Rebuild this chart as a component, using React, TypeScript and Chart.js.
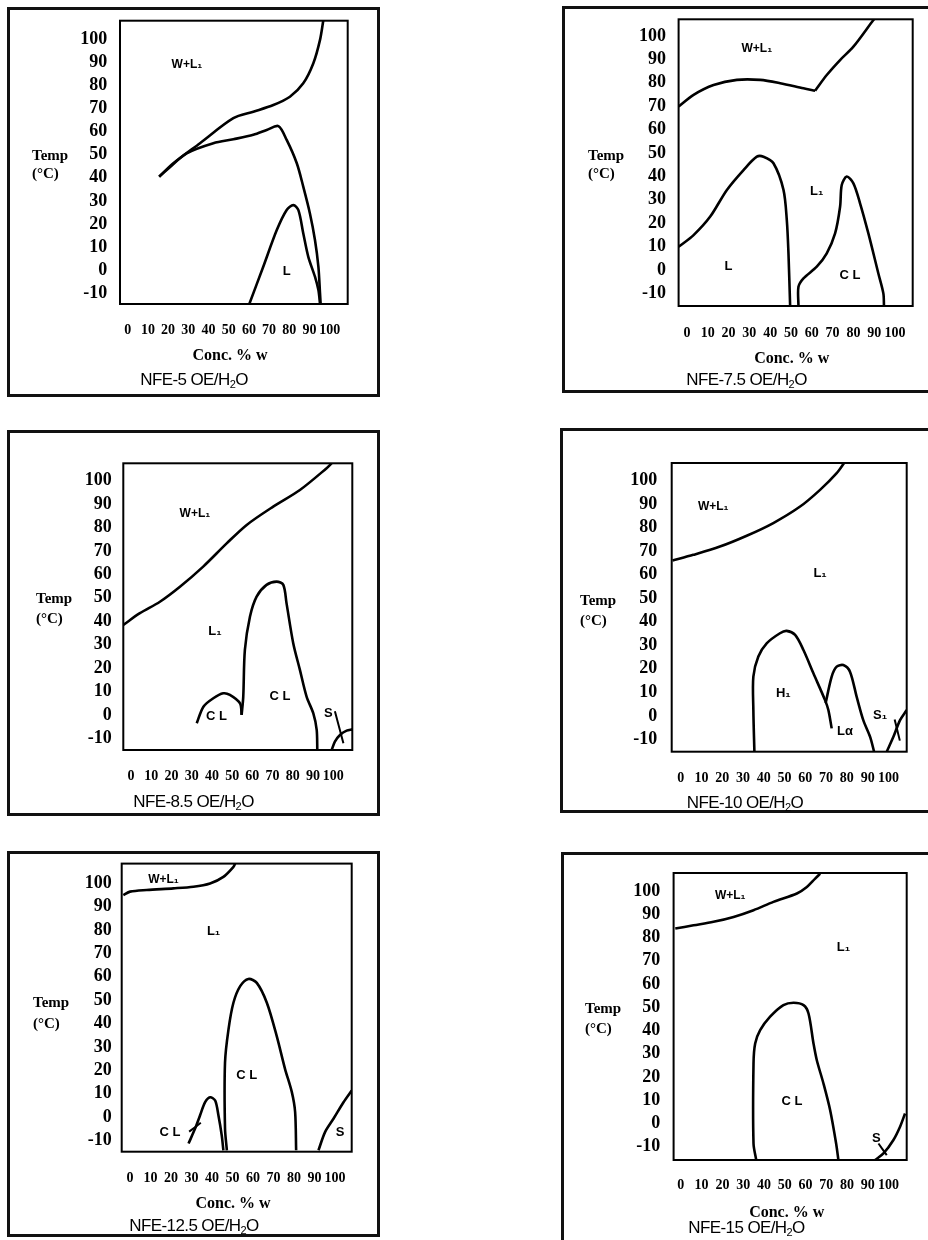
import React, { useEffect, useRef } from "react";
import { Chart, registerables } from "chart.js";
Chart.register(...registerables);

// ---- tick labels ----
const yTickValues = [-10, 0, 10, 20, 30, 40, 50, 60, 70, 80, 90, 100];
const xTickValues = [0, 10, 20, 30, 40, 50, 60, 70, 80, 90, 100];

// ---- NFE-5 OE/H2O ----
const nfe5Upper = [[15.6, 40.5], [22.6, 46.3], [35.8, 55], [52.3, 65.8], [62.2, 68.6], [72.1, 71.5], [80.3, 75.1], [86.9, 80.9], [91.9, 89.6], [95.2, 99.7], [96.8, 108]];
const nfe5Lower = [[15.6, 40.5], [19.3, 43.4], [29.2, 50.6], [42.4, 55], [52.3, 56.7], [62.2, 58.6], [68.8, 60.7], [74.6, 62.4], [78.7, 56.4], [83.7, 46.3], [86.9, 36.2], [90.2, 24.6], [92.7, 13.1], [94.4, 1.5], [95.2, -10], [95.5, -14.6]];
const nfe5Dome = [[60.2, -14.6], [67.1, 1.5], [73.8, 17.4], [78.7, 26.1], [82, 28.2], [84.5, 26], [86.9, 16], [89.4, 5.8], [92.7, -2.8], [94.4, -8.6], [95.2, -14.6]];
const nfe5Labels = [{ x: 29.3, y: 88.8, text: "W+L₁" }, { x: 78.7, y: -0.6, text: "L" }];

// ---- NFE-7.5 OE/H2O ----
const nfe75UpperLeft = [[-4, 69.8], [3.2, 74.8], [12.8, 79], [24, 81.2], [35.2, 81.2], [44.8, 79.8], [56, 77.6], [61.6, 76.6]];
const nfe75UpperRight = [[61.6, 76.6], [67.2, 83.3], [73.6, 89.7], [80, 95.4], [89.6, 106.8], [90, 107.1]];
const nfe75LDome = [[-4, 9.9], [3.2, 14.9], [11.2, 22.8], [19.2, 34.2], [27.2, 42.7], [33.6, 48.4], [36.8, 48.4], [41.6, 45.6], [46.4, 34.2], [48, 21.3], [48.8, 7.1], [49.6, -15.4]];
const nfe75CL = [[53.6, -15.4], [53.6, -7.2], [56, -3.6], [62.4, 1.4], [67.2, 7.1], [71.2, 15.6], [73.6, 27], [74.4, 36.3], [76.8, 39.9], [80, 37], [83.2, 28.5], [87.2, 15.6], [92, -1.5], [94.4, -10], [94.7, -15.4]];
const nfe75Labels = [{ x: 33.6, y: 94.7, text: "W+L₁" }, { x: 62.4, y: 33.4, text: "L₁" }, { x: 20, y: 1.4, text: "L" }, { x: 78.4, y: -2.2, text: "C L" }];

// ---- NFE-8.5 OE/H2O ----
const nfe85Upper = [[-3.8, 38.4], [4.4, 43.4], [14.3, 48.3], [24.2, 54.7], [35.7, 63.3], [47.3, 73.2], [57.2, 81.1], [70.3, 88.9], [83.5, 96], [96.7, 105.3], [99.2, 107.4]];
const nfe85SmallCL = [[32.5, -3.6], [35.8, 3.5], [40.7, 7.1], [45.6, 9.2], [48.9, 8.5], [53.9, 4.9], [54.7, 0]];
const nfe85BigCL = [[54.7, 0], [55.5, 7.8], [56.3, 27.7], [58.8, 41.9], [62.1, 50.5], [67, 55.5], [72, 56.9], [75.3, 55.5], [76.9, 47.6], [80.2, 30.6], [83.5, 19.2], [86.8, 7.8], [90.1, 0.7], [91.8, -6.4], [92.1, -15]];
const nfe85S = [[99.2, -15], [100.8, -11.4], [103.3, -8.6], [106.6, -6.7], [109.4, -6.2]];
const nfe85STick = [[100.8, 1.5], [105, -12.1]];
const nfe85Labels = [{ x: 31.6, y: 86, text: "W+L₁" }, { x: 41.5, y: 35.5, text: "L₁" }, { x: 42.3, y: -0.8, text: "C L" }, { x: 73.6, y: 7.8, text: "C L" }, { x: 97.5, y: 0.7, text: "S" }];

// ---- NFE-10 OE/H2O ----
const nfe10Upper = [[-3.9, 66], [6.1, 68.4], [18.9, 71.9], [31.8, 76.5], [44.6, 81.9], [57.5, 88.9], [67.1, 96], [75.1, 103.1], [78.7, 107.4]];
const nfe10H1 = [[35.5, -15.2], [35, 2.5], [35, 16.7], [37.4, 25.2], [41.4, 30.8], [47.8, 35.1], [51, 36.1], [55.1, 34.4], [59.1, 28], [63.9, 18.1], [69.5, 6.7], [71.1, 2.5], [72.7, -5.3]];
const nfe10La = [[69.8, 5.5], [72.7, 16.7], [75.1, 20.9], [78.3, 21.6], [81.5, 18.8], [84.7, 8.2], [87.9, -1.8], [91.2, -8.9], [93.1, -15.2]];
const nfe10S1 = [[99.2, -15.2], [102.4, -8.9], [105.6, -1.8], [108.8, 2.5]];
const nfe10STick = [[103, -1.5], [105.5, -10.5]];
const nfe10Labels = [{ x: 15.7, y: 88.9, text: "W+L₁" }, { x: 67.1, y: 60.6, text: "L₁" }, { x: 49.4, y: 9.6, text: "H₁" }, { x: 79.1, y: -6.7, text: "Lα" }, { x: 96, y: 0.4, text: "S₁" }];

// ---- NFE-12.5 OE/H2O ----
const nfe125Upper = [[-3.3, 95], [0, 96.5], [8.1, 97.2], [21.1, 97.9], [30.9, 98.6], [39, 100], [45.5, 102.8], [50.4, 107.1], [51.2, 108.5]];
const nfe125SmallCL = [[28.5, -11.4], [31.7, -5], [34.1, 0.6], [36.6, 6.3], [39, 8.4], [41.5, 7], [43.1, 0.6], [44.7, -7.9], [45.5, -14.3]];
const nfe125Tick = [[28.8, -6.3], [34.5, -2.5]];
const nfe125BigCL = [[47.2, -14.3], [46.3, -5], [46.3, 23.3], [48, 37.5], [50.4, 48.9], [53.7, 56], [57.7, 59.1], [61.8, 57.4], [66.7, 48.9], [71.5, 34.7], [75.6, 20.5], [78.9, 10.6], [80.5, 2.1], [81, -14.3]];
const nfe125S = [[91.9, -14.3], [95.1, -6.5], [99.2, -0.8], [104.1, 6.3], [108.1, 11.3]];
const nfe125Labels = [{ x: 16.3, y: 101.7, text: "W+L₁" }, { x: 40.7, y: 79.4, text: "L₁" }, { x: 56.9, y: 17.7, text: "C L" }, { x: 19.5, y: -6.5, text: "C L" }, { x: 102.4, y: -6.5, text: "S" }];

// ---- NFE-15 OE/H2O ----
const nfe15Upper = [[-2.7, 83.8], [6.1, 85.2], [15.7, 86.7], [25.4, 88.8], [35, 91.7], [44.6, 95.3], [55.9, 98.9], [60.7, 101.7], [64.7, 105.3], [67.1, 107.4]];
const nfe15CL = [[36.3, -15.7], [35, -8.6], [35, 25.8], [35.8, 34.4], [38.2, 40.1], [43, 45.9], [49.4, 50.9], [54.3, 51.9], [59.1, 50.9], [61.5, 47.3], [63.9, 34.4], [65.5, 27.2], [68.7, 17.2], [71.9, 5.8], [74.8, -8.6], [75.9, -15.7]];
const nfe15S = [[93.6, -15.7], [97.6, -12.9], [102.4, -7.1], [105.6, -1.4], [108, 4.3]];
const nfe15Tick = [[95.2, -8.6], [99.2, -13.6]];
const nfe15Labels = [{ x: 23.8, y: 98.1, text: "W+L₁" }, { x: 78.3, y: 75.9, text: "L₁" }, { x: 53.5, y: 9.3, text: "C L" }, { x: 94.2, y: -6.4, text: "S" }];

type Rect = { l: number; t: number; r: number; b: number };
type Panel = {
  name: string;
  frame: Rect;
  box: Rect;
  xr: [number, number];
  yr: [number, number];
  yPad: number;
  xLabelY: number;
  temp: { x: number; y1: number; y2: number };
  conc?: { x: number; y: number };
  caption: { x: number; y: number };
  series: number[][][];
  thin?: number[][][];
  labels: { x: number; y: number; text: string }[];
};

const panels: Panel[] = [
  {
    name: "NFE-5", frame: { l: 7, t: 7, r: 380, b: 397 }, box: { l: 120, t: 20.7, r: 347.7, b: 304 },
    xr: [-3.8, 108.9], yr: [-14.6, 108], yPad: 12.7, xLabelY: 330,
    temp: { x: 32, y1: 155, y2: 173 }, conc: { x: 230, y: 355 }, caption: { x: 194, y: 380 },
    series: [nfe5Upper, nfe5Lower, nfe5Dome], labels: nfe5Labels,
  },
  {
    name: "NFE-7.5", frame: { l: 561.7, t: 6, r: 940, b: 393 }, box: { l: 678.3, t: 19.3, r: 912.7, b: 306 },
    xr: [-4, 108.5], yr: [-15.4, 107.1], yPad: 12.6, xLabelY: 333,
    temp: { x: 588, y1: 155, y2: 173 }, conc: { x: 791.7, y: 358 }, caption: { x: 746.5, y: 380 },
    series: [nfe75UpperLeft, nfe75UpperRight, nfe75LDome, nfe75CL], labels: nfe75Labels,
  },
  {
    name: "NFE-8.5", frame: { l: 7, t: 430, r: 380, b: 816 }, box: { l: 123.3, t: 463.3, r: 352.3, b: 750 },
    xr: [-3.8, 109.4], yr: [-15, 107.4], yPad: 11.6, xLabelY: 776.7,
    temp: { x: 36, y1: 598, y2: 618 }, caption: { x: 193.5, y: 802 },
    series: [nfe85Upper, nfe85SmallCL, nfe85BigCL, nfe85S], thin: [nfe85STick], labels: nfe85Labels,
  },
  {
    name: "NFE-10", frame: { l: 560, t: 428.3, r: 940, b: 813 }, box: { l: 671.7, t: 463.3, r: 906.7, b: 751.7 },
    xr: [-4.3, 108.8], yr: [-15.2, 107.4], yPad: 14.4, xLabelY: 778.3,
    temp: { x: 580, y1: 600, y2: 620 }, caption: { x: 745, y: 803 },
    series: [nfe10Upper, nfe10H1, nfe10La, nfe10S1], thin: [nfe10STick], labels: nfe10Labels,
  },
  {
    name: "NFE-12.5", frame: { l: 7, t: 850.7, r: 380, b: 1237 }, box: { l: 121.7, t: 863.3, r: 351.7, b: 1151.7 },
    xr: [-4.1, 108.1], yr: [-14.9, 108.5], yPad: 10, xLabelY: 1178.3,
    temp: { x: 33, y1: 1001.7, y2: 1023.3 }, conc: { x: 233, y: 1203.3 }, caption: { x: 194, y: 1225.5 },
    series: [nfe125Upper, nfe125SmallCL, nfe125BigCL, nfe125S], thin: [nfe125Tick], labels: nfe125Labels,
  },
  {
    name: "NFE-15", frame: { l: 560.7, t: 851.7, r: 940, b: 1250 }, box: { l: 673.3, t: 872.7, r: 906.7, b: 1160 },
    xr: [-3.5, 108.8], yr: [-15.7, 107.7], yPad: 13.3, xLabelY: 1185,
    temp: { x: 585, y1: 1008.3, y2: 1028.3 }, conc: { x: 786.7, y: 1211.7 }, caption: { x: 746.5, y: 1227.5 },
    series: [nfe15Upper, nfe15CL, nfe15S], thin: [nfe15Tick], labels: nfe15Labels,
  },
];

const SERIF = "'Liberation Serif', 'Times New Roman', 'DejaVu Serif', serif";
const SANS = "'Liberation Sans', Arial, 'DejaVu Sans', sans-serif";

function PanelChart({ p }: { p: Panel }) {
  const ref = useRef<HTMLCanvasElement>(null);
  const cl = p.frame.l;
  const ct = p.frame.t;
  const cr = Math.min(p.frame.r, 928);
  const cb = Math.min(p.frame.b, 1240);
  const W = Math.round(cr - cl);
  const H = Math.round(cb - ct);

  useEffect(() => {
    const Y_W = 50;
    const X_H = 40;
    const X_FONT = 14;
    const boxPlugin = {
      id: "boxFrame",
      afterDatasetsDraw(chart: any) {
        const { ctx, chartArea: a } = chart;
        ctx.save();
        ctx.strokeStyle = "#000";
        ctx.lineWidth = 2;
        ctx.strokeRect(a.left, a.top, a.right - a.left, a.bottom - a.top);
        ctx.restore();
      },
    };
    const labelPlugin = {
      id: "regionLabels",
      afterDatasetsDraw(chart: any) {
        const { ctx } = chart;
        const xs = chart.scales.x;
        const ys = chart.scales.y;
        ctx.save();
        ctx.fillStyle = "#000";
        ctx.textAlign = "center";
        ctx.textBaseline = "middle";
        for (const lb of p.labels) {
          const size = lb.text.startsWith("W") ? 12 : 13;
          ctx.font = `bold ${size}px ${SANS}`;
          ctx.fillText(lb.text, xs.getPixelForValue(lb.x), ys.getPixelForValue(lb.y));
        }
        ctx.restore();
      },
    };
    const mk = (pts: number[][], w: number) => ({
      data: pts.map(([x, y]) => ({ x, y })),
      showLine: true,
      borderColor: "#000",
      backgroundColor: "#000",
      borderWidth: w,
      pointRadius: 0,
      tension: 0.3,
      fill: false,
    });
    const datasets = [
      ...p.series.map((s) => mk(s, 2.6)),
      ...(p.thin || []).map((s) => mk(s, 2)),
    ];
    const chart = new Chart(ref.current as HTMLCanvasElement, {
      type: "scatter",
      data: { datasets },
      options: {
        responsive: false,
        animation: false,
        maintainAspectRatio: false,
        layout: {
          padding: {
            left: p.box.l - cl - Y_W,
            right: cr - p.box.r,
            top: p.box.t - ct,
            bottom: cb - p.box.b - X_H,
          },
        },
        plugins: { legend: { display: false }, tooltip: { enabled: false }, title: { display: false } },
        scales: {
          x: {
            type: "linear",
            min: p.xr[0],
            max: p.xr[1],
            grid: { display: false, drawTicks: false },
            border: { display: false },
            ticks: {
              color: "#000",
              font: { family: SERIF, weight: "bold", size: X_FONT },
              padding: p.xLabelY - p.box.b - X_FONT * 0.6,
              autoSkip: false,
              maxRotation: 0,
              minRotation: 0,
            },
            afterBuildTicks: (s: any) => {
              s.ticks = xTickValues.map((v) => ({ value: v }));
            },
            afterFit: (s: any) => {
              s.height = X_H;
              s.paddingLeft = 0;
              s.paddingRight = 0;
              s.paddingTop = 0;
              s.paddingBottom = 0;
            },
          },
          y: {
            type: "linear",
            min: p.yr[0],
            max: p.yr[1],
            grid: { display: false, drawTicks: false },
            border: { display: false },
            ticks: {
              color: "#000",
              font: { family: SERIF, weight: "bold", size: 18 },
              padding: p.yPad,
              autoSkip: false,
            },
            afterBuildTicks: (s: any) => {
              s.ticks = yTickValues.map((v) => ({ value: v }));
            },
            afterFit: (s: any) => {
              s.width = Y_W;
              s.paddingLeft = 0;
              s.paddingRight = 0;
              s.paddingTop = 0;
              s.paddingBottom = 0;
            },
          },
        },
      } as any,
      plugins: [boxPlugin, labelPlugin],
    });
    return () => chart.destroy();
  }, []);

  const f = p.frame;
  return (
    <>
      <div
        style={{
          position: "absolute",
          left: f.l,
          top: f.t,
          width: f.r - f.l,
          height: f.b - f.t,
          border: "3px solid #111",
          boxSizing: "border-box",
        }}
      />
      <canvas
        ref={ref}
        width={W}
        height={H}
        style={{ position: "absolute", left: cl, top: ct, width: W, height: H }}
      />
      <div style={{ position: "absolute", left: p.temp.x, top: p.temp.y1 - 9, font: `bold 15px ${SERIF}`, lineHeight: "18px", whiteSpace: "nowrap" }}>Temp</div>
      <div style={{ position: "absolute", left: p.temp.x, top: p.temp.y2 - 9, font: `bold 15px ${SERIF}`, lineHeight: "18px", whiteSpace: "nowrap" }}>(°C)</div>
      {p.conc && (
        <div style={{ position: "absolute", left: p.conc.x, top: p.conc.y, transform: "translate(-50%, -50%)", font: `bold 16px ${SERIF}`, whiteSpace: "nowrap", lineHeight: "18px" }}>
          Conc. % w
        </div>
      )}
      <div style={{ position: "absolute", left: p.caption.x, top: p.caption.y, transform: "translate(-50%, -50%)", font: `17px ${SANS}`, letterSpacing: "-0.6px", whiteSpace: "nowrap", lineHeight: "18px" }}>
        {p.name} OE/H<sub style={{ fontSize: "11px", verticalAlign: "-3px", lineHeight: "0" }}>2</sub>O
      </div>
    </>
  );
}

export default function App() {
  return (
    <div style={{ position: "absolute", left: 0, top: 0, width: 928, height: 1240, overflow: "hidden", background: "#fff", color: "#000" }}>
      {panels.map((p) => (
        <PanelChart key={p.name} p={p} />
      ))}
    </div>
  );
}
